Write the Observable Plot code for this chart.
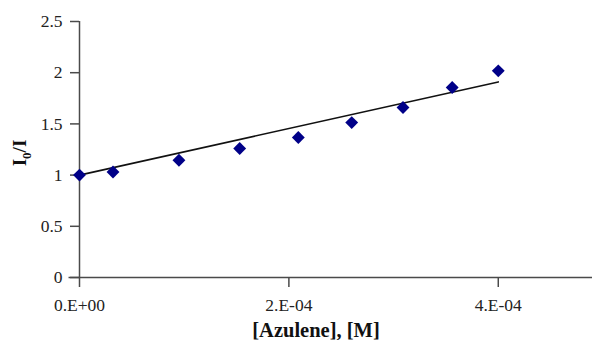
<!DOCTYPE html>
<html>
<head>
<meta charset="utf-8">
<script src="https://cdn.jsdelivr.net/npm/d3@7"></script>
<script src="https://cdn.jsdelivr.net/npm/@observablehq/plot@0.6"></script>
<style>
  html, body { margin: 0; padding: 0; background: #fff; }
  #chart svg { display: block; }
  #chart svg, #chart svg text, #chart svg tspan { font-family: "Liberation Serif", "DejaVu Serif", "Times New Roman", serif !important; }
</style>
</head>
<body>
<div id="chart"></div>
<script>
// Data
const azulene = [0, 3.2e-5, 9.5e-5, 1.53e-4, 2.09e-4, 2.6e-4, 3.09e-4, 3.56e-4, 4.0e-4];
const ratio   = [1.0, 1.03, 1.145, 1.26, 1.367, 1.513, 1.66, 1.855, 2.018];
// Trend line end points
const trendX = [0, 4.0e-4];
const trendY = [1.0, 1.91];
// Ticks
const xTicks = [0, 2e-4, 4e-4];
const xTickLabels = ["0.E+00", "2.E-04", "4.E-04"];
const yTicks = [0, 0.5, 1, 1.5, 2, 2.5];
const yTickLabels = ["0", "0.5", "1", "1.5", "2", "2.5"];

const points = azulene.map((x, i) => ({x, y: ratio[i]}));
const trend = trendX.map((x, i) => ({x, y: trendY[i]}));

const axisColor = "#4a4a4a";
const chart = Plot.plot({
  width: 592,
  height: 340,
  marginLeft: 79,
  marginRight: 0,
  marginTop: 21,
  marginBottom: 63,
  style: {fontSize: "17.5px", color: "#222", background: "#fff"},
  x: {domain: [0, 4.9e-4]},
  y: {domain: [0, 2.5]},
  marks: [
    Plot.ruleY([0], {stroke: axisColor, strokeWidth: 1.5, x1: -0.1e-4, x2: 4.9e-4}),
    Plot.ruleX([0], {stroke: axisColor, strokeWidth: 1.5}),
    Plot.axisY({ticks: yTicks, tickFormat: (d) => yTickLabels[yTicks.indexOf(d)], tickSize: 9, tickPadding: 8, label: null, stroke: axisColor, strokeWidth: 1.5, fill: "#222"}),
    Plot.axisX({ticks: xTicks, tickFormat: (d) => xTickLabels[xTicks.indexOf(d)], tickSize: 10, tickPadding: 11, label: null, stroke: axisColor, strokeWidth: 1.5, fill: "#222"}),
    Plot.line(trend, {x: "x", y: "y", stroke: "#111", strokeWidth: 1.6}),
    Plot.dot(points, {x: "x", y: "y", symbol: "diamond2", r: 5.8, fill: "#000088", stroke: "none"}),
    Plot.text(["[Azulene], [M]"], {frameAnchor: "bottom", dx: -20, dy: 59, fontWeight: "bold", fontSize: 20.5, fill: "#111"})
  ]
});

// y-axis title with subscript
const svg = d3.select(chart);
const t = svg.append("text")
  .attr("transform", "translate(26,153) rotate(-90)")
  .attr("text-anchor", "middle")
  .attr("font-weight", "bold")
  .attr("font-size", 19)
  .attr("fill", "#111");
t.append("tspan").text("I");
t.append("tspan").attr("font-size", 13).attr("dy", 5).text("0");
t.append("tspan").attr("dy", -5).text("/I");

document.getElementById("chart").appendChild(chart);
</script>
</body>
</html>
